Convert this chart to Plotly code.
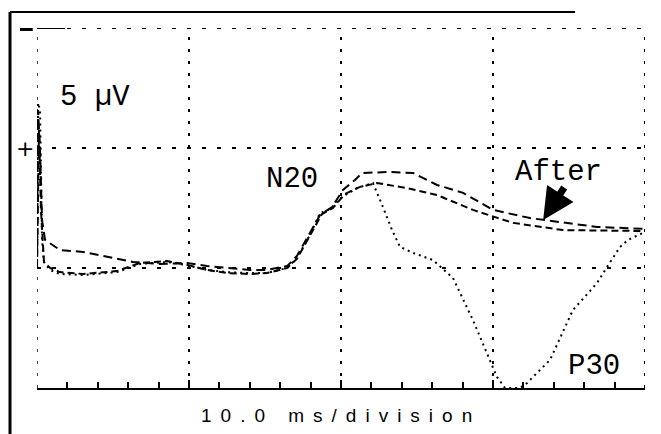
import plotly.graph_objects as go

# time in ms (10 ms / division), amplitude in uV (5 uV / division)
t_before = [0, 0.07, 0.2, 0.26, 0.33, 0.46, 0.86, 1.51, 3.03, 5.26, 6.78, 8.55, 9.87, 11.18, 12.5,
            14.01, 15.13, 16.45, 17.1, 17.96, 18.62, 19.28, 20.07, 21.05, 22.1, 22.76, 23.36, 23.88,
            24.74, 26.05, 27.37, 28.68, 29.8, 30.26, 30.79, 31.78, 32.24, 33.75, 35.26, 36.84, 37.5,
            38.36, 38.88, 40]
v_before = [0, 6.88, 6.58, 2.83, 1.17, 0.25, -0.08, -0.25, -0.29, -0.17, 0.17, 0.25, 0.12, -0.08, -0.17,
            -0.21, -0.21, 0, 0.42, 1.38, 2.29, 2.46, 2.96, 3.33, 3.54, 2.54, 1.58, 0.88,
            0.63, 0.33, -0.42, -2.17, -3.83, -4.54, -5.0, -5.0, -4.79, -3.83, -1.75, -0.63, 0.04,
            0.88, 1.17, 1.5]

t_after1 = [0, 0.07, 0.2, 0.33, 0.53, 1.51, 3.03, 4.8, 6.32, 8.09, 9.87, 11.18, 12.5, 14.01, 15.13,
            16.45, 17.1, 17.96, 18.62, 19.41, 20.13, 20.92, 21.38, 23.22, 24.74, 26.32, 28.03, 30.0,
            32.43, 36.84, 40]
v_after1 = [0, 6.58, 4.92, 2.0, 1.17, 0.75, 0.67, 0.46, 0.25, 0.17, 0.21, 0.08, 0, -0.08, -0.08,
            0.08, 0.5, 1.46, 2.21, 2.54, 3.25, 3.67, 3.96, 4.0, 3.96, 3.46, 3.13, 2.42,
            2.08, 1.71, 1.63]

t_after2 = [0, 0.13, 0.26, 0.46, 0.86, 1.51, 3.03, 5.26, 6.78, 8.55, 9.87, 11.18, 12.5, 14.01, 15.13,
            16.45, 17.1, 17.96, 18.75, 19.47, 20.26, 21.25, 22.37, 24.34, 26.32, 28.68, 31.32, 34.6, 40]
v_after2 = [0, 5.75, 2.42, 0.25, 0, -0.17, -0.25, -0.13, 0.21, 0.29, 0.13, -0.08, -0.21, -0.25, -0.21,
            0, 0.38, 1.33, 2.25, 2.5, 3.08, 3.38, 3.54, 3.33, 3.04, 2.42, 1.88, 1.58, 1.54]

grid_x = [0, 10, 20, 30, 40]
grid_y = [0, 5, 10]
x_range = [0, 40]
y_range = [-5, 10]

fig = go.Figure()
fig.add_trace(go.Scatter(x=t_before, y=v_before, mode="lines", name="Before",
                         line=dict(color="black", width=2, dash="2px,4px")))
fig.add_trace(go.Scatter(x=t_after1, y=v_after1, mode="lines", name="After",
                         line=dict(color="black", width=2, dash="9px,5px")))
fig.add_trace(go.Scatter(x=t_after2, y=v_after2, mode="lines", name="After 2",
                         line=dict(color="black", width=2, dash="7px,4px")))

shapes = []
for gx in grid_x:
    shapes.append(dict(type="line", xref="x", yref="y", x0=gx, x1=gx, y0=y_range[0], y1=y_range[1],
                       line=dict(color="black", width=2 if gx else 1.5, dash="3px,9px"), layer="below"))
for gy in grid_y:
    shapes.append(dict(type="line", xref="x", yref="y", x0=x_range[0], x1=x_range[1], y0=gy, y1=gy,
                       line=dict(color="black", width=2, dash="4px,11px"), layer="below"))
# solid start of top line and dash mark at top left
shapes.append(dict(type="line", xref="paper", yref="y", x0=0, x1=0.046, y0=10, y1=10,
                   line=dict(color="black", width=2)))
shapes.append(dict(type="line", xref="paper", yref="y", x0=-0.028, x1=-0.007, y0=9.96, y1=9.96,
                   line=dict(color="black", width=4)))
# outer frame (left and top)
shapes.append(dict(type="line", xref="paper", yref="paper", x0=-0.0444, x1=-0.0444, y0=1.0444, y1=-0.13,
                   line=dict(color="black", width=3)))
shapes.append(dict(type="line", xref="paper", yref="paper", x0=-0.0444, x1=0.885, y0=1.0444, y1=1.0444,
                   line=dict(color="black", width=2)))

mono = "Liberation Mono, Courier New, monospace"
annotations = [
    dict(text="5 µV", x=0.095, y=7.1, xref="paper", yref="y", xanchor="center", showarrow=False,
         font=dict(family=mono, size=29, color="black")),
    dict(text="N20", x=16.8, y=3.7, xref="x", yref="y", xanchor="center", showarrow=False,
         font=dict(family=mono, size=29, color="black")),
    dict(text="After", x=34.3, y=3.96, xref="x", yref="y", xanchor="center", showarrow=False,
         font=dict(family=mono, size=29, color="black")),
    dict(text="P30", x=36.65, y=-4.1, xref="x", yref="y", xanchor="center", showarrow=False,
         font=dict(family=mono, size=29, color="black")),
    dict(text="+", x=-0.0197, y=5, xref="paper", yref="y", xanchor="center", showarrow=False,
         font=dict(family="DejaVu Sans", size=22, color="black")),
    dict(text='<span style="letter-spacing:9px">10.0 ms/division</span>', x=0.5, y=-0.075,
         xref="paper", yref="paper", xanchor="center", yanchor="middle", showarrow=False,
         font=dict(family="Liberation Sans, Arial", size=19, color="black")),
    dict(text="", x=33.3, y=2.0, xref="x", yref="y", ax=22, ay=-34, showarrow=True,
         arrowhead=2, arrowsize=0.9, arrowwidth=7, arrowcolor="black", standoff=0),
]

fig.update_layout(
    width=661, height=434,
    margin=dict(l=37, r=16, t=28, b=46),
    paper_bgcolor="white", plot_bgcolor="white",
    showlegend=False,
    shapes=shapes, annotations=annotations,
    xaxis=dict(range=x_range, showgrid=False, zeroline=False, showticklabels=False,
               showline=True, linecolor="black", linewidth=2,
               ticks="inside", tick0=0, dtick=10, ticklen=8, tickwidth=2, tickcolor="black",
               minor=dict(dtick=2, ticks="inside", ticklen=6, tickwidth=2, tickcolor="black")),
    yaxis=dict(range=y_range, showgrid=False, zeroline=False, showticklabels=False,
               showline=False, ticks=""),
)

fig.write_html("out.html", config={"displayModeBar": False},
               post_script="document.body.style.margin='0';")
